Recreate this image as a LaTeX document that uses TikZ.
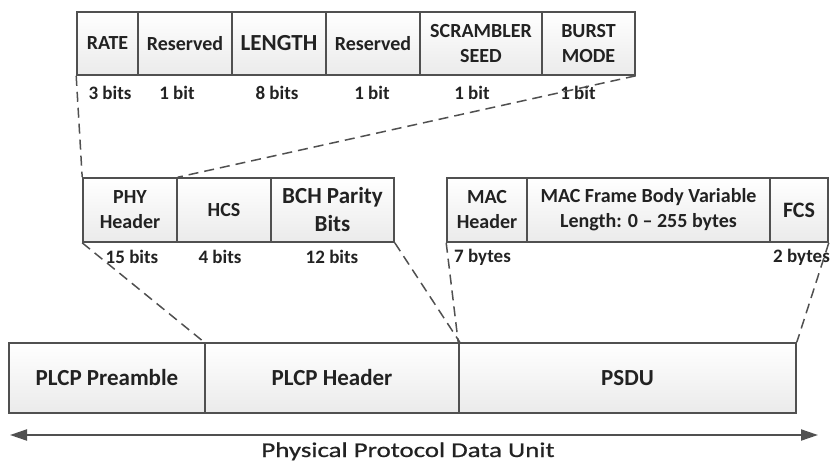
\documentclass[tikz,border=0pt]{standalone}
\usepackage{fontspec}
\setmainfont{Carlito}
\newfontfamily\widefont[FakeStretch=1.28,FakeBold=0.8]{Carlito}
\usetikzlibrary{arrows.meta}
\definecolor{edge}{HTML}{505050}
\definecolor{ink}{HTML}{222222}

\begin{document}
\begin{tikzpicture}[x=1pt,y=-1pt,
  cell/.style={draw=edge,line width=1.6pt,top color=white,bottom color=gray!16,
    inner sep=0pt,align=center,text=ink,font=\fontsize{20}{25}\selectfont\bfseries},
  big/.style={font=\fontsize{23}{28}\selectfont\bfseries},
  size/.style={text=ink,inner sep=0pt,font=\fontsize{19}{20}\selectfont\bfseries},
  link/.style={draw=edge,line width=1.5pt,dash pattern=on 10pt off 6pt}]
  \useasboundingbox (0,0) rectangle (830,463);

  \node[cell,minimum width=61pt,minimum height=63pt] (1) at (107.5,43.5) {RATE};
  \node[cell,minimum width=94pt,minimum height=63pt] (2) at (185,43.5) {Reserved};
  \node[cell,big,minimum width=94pt,minimum height=63pt] (3) at (279,43.5) {LENGTH};
  \node[cell,minimum width=94pt,minimum height=63pt] (4) at (373,43.5) {Reserved};
  \node[cell,minimum width=122pt,minimum height=63pt] (5) at (481,43.5) {SCRAMBLER\\SEED};
  \node[cell,minimum width=93pt,minimum height=63pt] (6) at (588.5,43.5) {BURST\\MODE};

  \node[size] (7) at (110,93) {3 bits};
  \node[size] (8) at (177,93) {1 bit};
  \node[size] (9) at (277,93) {8 bits};
  \node[size] (10) at (372,93) {1 bit};
  \node[size] (11) at (472,93) {1 bit};
  \node[size] (12) at (578,93) {1 bit};

  \node[cell,minimum width=94pt,minimum height=64pt] (13) at (130,210) {PHY\\Header};
  \node[cell,minimum width=94pt,minimum height=64pt] (14) at (224,210) {HCS};
  \node[cell,big,minimum width=123pt,minimum height=64pt] (15) at (332.5,210) {BCH Parity\\Bits};

  \node[cell,minimum width=80pt,minimum height=64pt] (16) at (487,210) {MAC\\Header};
  \node[cell,minimum width=243pt,minimum height=64pt] (17) at (648.5,210) {MAC Frame Body Variable\\Length: 0 -- 255 bytes};
  \node[cell,font=\fontsize{22}{25}\selectfont\bfseries,minimum width=58pt,minimum height=64pt] (18) at (799,210) {FCS};

  \node[size] (19) at (132,257) {15 bits};
  \node[size] (20) at (220,257) {4 bits};
  \node[size] (21) at (332,257) {12 bits};
  \node[size,anchor=west] (22) at (454,257) {7 bytes};
  \node[size,anchor=east] (23) at (830,257) {2 bytes};

  \node[cell,big,minimum width=196pt,minimum height=70pt] (24) at (107,378) {PLCP Preamble};
  \node[cell,big,minimum width=254pt,minimum height=70pt] (25) at (332,378) {PLCP Header};
  \node[cell,big,minimum width=337pt,minimum height=70pt] (26) at (627.5,378) {PSDU};

  \coordinate (27) at (10,435);
  \coordinate (28) at (818,435);
  \node[text=ink,inner sep=0pt,anchor=base,font=\fontsize{21}{22}\widefont] (29) at (408,457) {Physical Protocol Data Unit};

  \draw[link] (1.south west) -- (13.north west);
  \draw[link] (6.south east) -- (13.north east);
  \draw[link] (13.south west) -- (25.north west);
  \draw[link] (15.south east) -- (25.north east);
  \draw[link] (16.south west) -- (26.north west);
  \draw[link] (18.south east) -- (26.north east);

  \draw[draw=edge,line width=2pt,{Triangle[length=17pt,width=11pt]}-{Triangle[length=17pt,width=11pt]}] (27) -- (28);
\end{tikzpicture}
\end{document}
